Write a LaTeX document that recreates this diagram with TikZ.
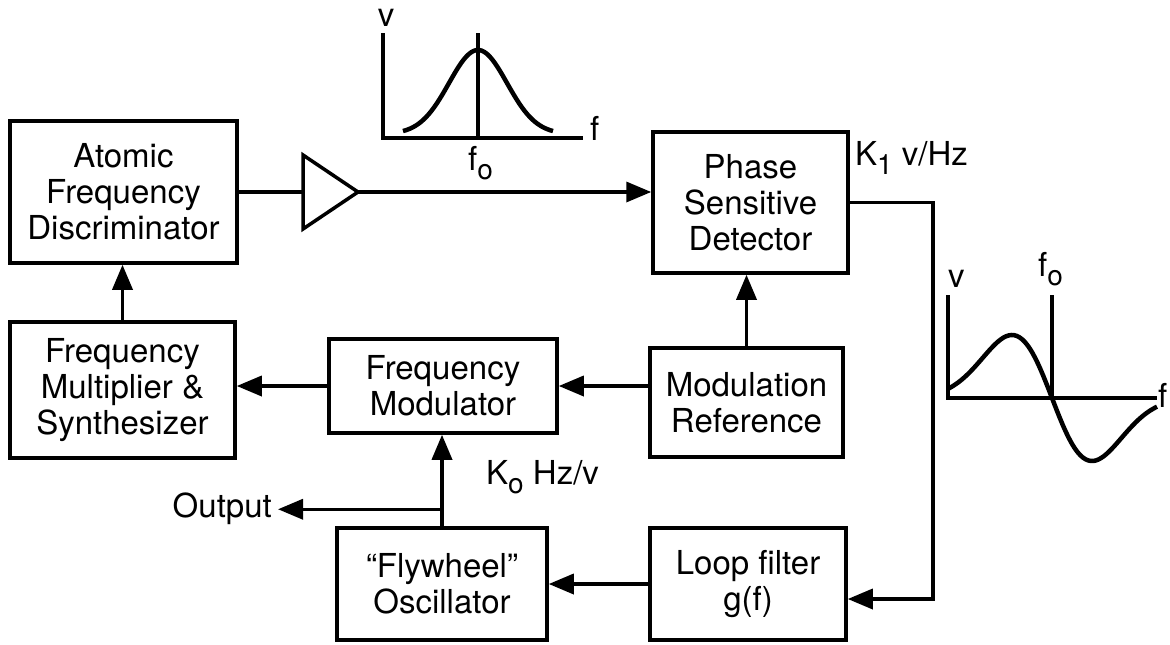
\documentclass[tikz,border=0pt]{standalone}
\usepackage{fontspec}
\setmainfont{TeX Gyre Heros}
\usepackage{tikz}
\usetikzlibrary{arrows.meta}
\tikzstyle{block}=[draw, line width=3.5pt, inner sep=0pt, align=center, font=\fontsize{33}{36}\selectfont]
\tikzstyle{lbl}=[inner sep=0pt, font=\fontsize{33}{36}\selectfont]
\tikzstyle{arr}=[line width=3.5pt, -{Triangle[length=25pt,width=20pt]}]
\tikzstyle{wire}=[line width=3.5pt]
\newcommand{\lowsub}[1]{\raisebox{-0.3em}{\fontsize{28}{28}\selectfont #1}}

\begin{document}
\begin{tikzpicture}[x=1pt, y=-1pt]
\useasboundingbox (0,0) rectangle (1170,645);

\node[block, minimum width=227pt, minimum height=142pt] (afd) at (123.5,192) {Atomic\\Frequency\\Discriminator};
\node[block, minimum width=195pt, minimum height=141pt] (psd) at (750.5,202.5) {Phase\\Sensitive\\Detector};
\node[block, minimum width=225pt, minimum height=136pt] (fms) at (122.5,390) {Frequency\\Multiplier \&\\Synthesizer};
\node[block, minimum width=228pt, minimum height=94pt] (fmod) at (443,386) {Frequency\\Modulator};
\node[block, minimum width=193pt, minimum height=109pt] (mref) at (746.5,402.5) {Modulation\\Reference};
\node[block, minimum width=210pt, minimum height=112pt] (fly) at (442,584) {``Flywheel''\\Oscillator};
\node[block, minimum width=196pt, minimum height=112pt] (lpf) at (748,584) {Loop filter\\g(f)};

\node[lbl, anchor=east] (out) at (272,509) {Output};
\node[lbl, anchor=base west] (fo) at (468,170) {f\lowsub{o}};
\node[lbl, anchor=base west] (kone) at (855,165) {K\lowsub{1} v/Hz};
\node[lbl, anchor=base west] (kzero) at (486,484) {K\lowsub{o} Hz/v};

% amplifier
\coordinate (ampin) at (303,192);
\coordinate (ampout) at (358,192);
\draw[wire, line join=miter] (ampin) ++(0,-37) -- (ampout) -- ([yshift=-37pt]ampin) -- cycle;

\draw[wire] (afd.east) -- (ampin);
\draw[arr] (ampout) -- (ampout -| psd.west);
\draw[arr] (psd.east) -- ++(83,0) |- ([yshift=-15pt]lpf.east);
\draw[arr] (lpf.west) -- (lpf.west -| fly.east);
\draw[arr] (mref.north) -- (mref.north |- psd.south);
\draw[arr] (mref.west |- fmod.east) -- (fmod.east);
\draw[arr] (fmod.west) -- (fmod.west -| fms.east);
\draw[arr] (fms.north) -- (fms.north |- afd.south);
\draw[arr] (fly.north) -- (fly.north |- fmod.south);
\coordinate (tap) at ([yshift=17pt]fly.north);
\draw[arr] (tap) -- ([xshift=6pt]tap -| out.east);

% resonance line
\node[lbl, anchor=base] (gv) at (386,27) {v};
\node[lbl, anchor=base west] (gf) at (590,140) {f};
\draw[wire] (383,33) -- (383,138) -- (583,138);
\draw[wire] (478,33) -- (478,138);
\draw[line width=4.5pt] plot[domain=403:553, samples=60, smooth] (\x, {134-84*exp(-((\x-478)/41)^2)});

% error signal
\node[lbl, anchor=base west] (sv) at (948,287) {v};
\node[lbl, anchor=base west] (sfo) at (1038,276) {f\lowsub{o}};
\node[lbl, anchor=base west] (sf) at (1158,407) {f};
\draw[wire] (948,295) -- (948,398) -- (1157,398);
\draw[wire] (1052,295) -- (1052,398);
\draw[line width=4.5pt] plot[domain=948:1157, samples=80, smooth] (\x, {398-63*((1052-\x)/40)*exp(0.5-((\x-1052)/40)^2/2)});

\end{tikzpicture}
\end{document}
